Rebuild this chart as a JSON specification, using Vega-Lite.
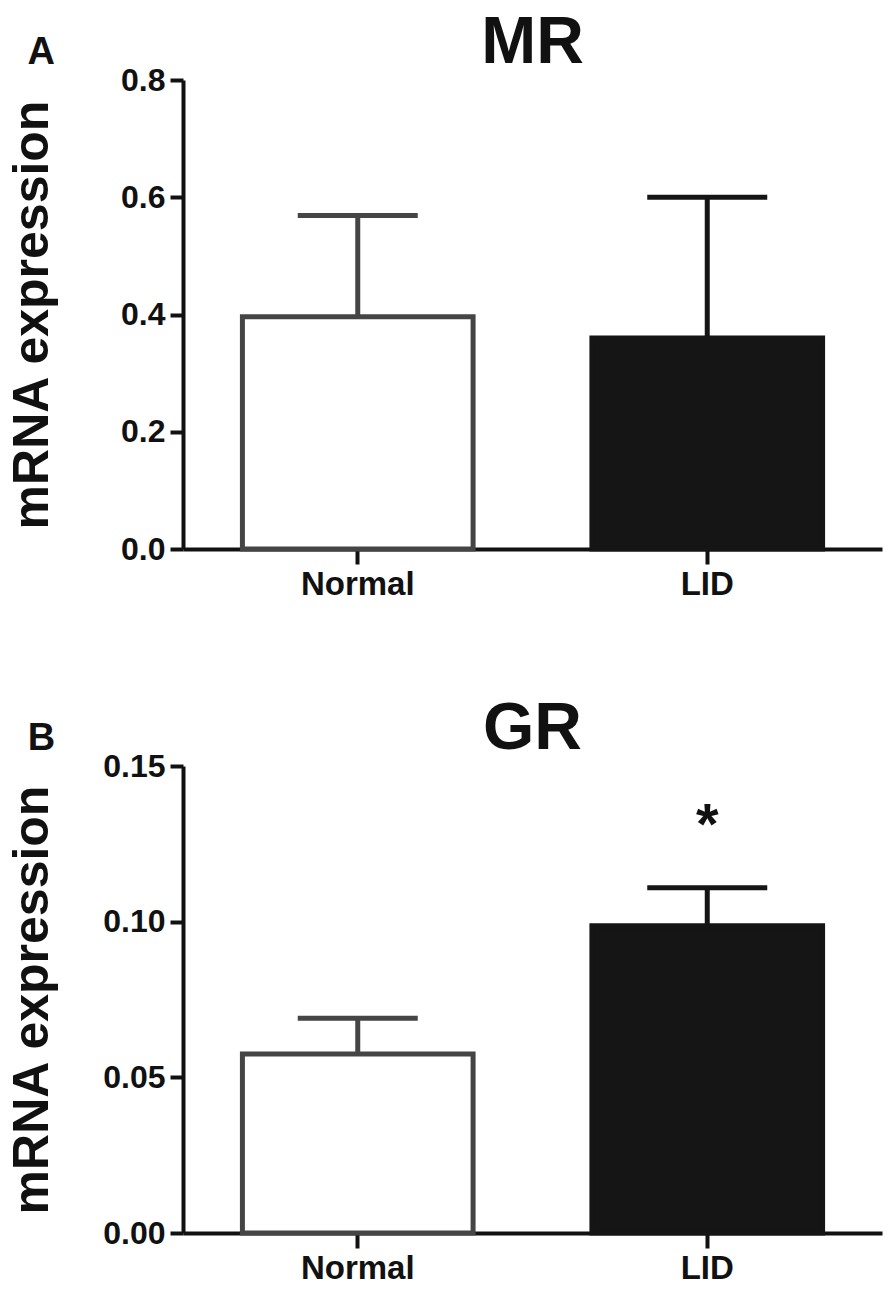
{
  "$schema": "https://vega.github.io/schema/vega-lite/v6.json",
  "background": "white",
  "padding": {"left": 7, "top": 10, "right": 5, "bottom": 5},
  "config": {
    "view": {"stroke": null},
    "font": "Liberation Sans",
    "axis": {
      "grid": false,
      "domainColor": "#111111",
      "domainWidth": 4,
      "tickColor": "#111111",
      "tickWidth": 4,
      "tickSize": 13,
      "labelFont": "Liberation Sans",
      "labelFontWeight": "bold",
      "labelColor": "#111111",
      "titleFont": "Liberation Sans",
      "titleFontWeight": "bold",
      "titleColor": "#111111"
    },
    "title": {"font": "Liberation Sans", "fontWeight": "bold", "color": "#111111"}
  },
  "spacing": 95,
  "vconcat": [
    {
      "title": {"text": "A", "anchor": "start", "frame": "bounds", "fontSize": 38, "dx": 20, "dy": 66},
      "vconcat": [
        {
          "width": 699,
          "height": 469,
          "title": {"text": "MR", "fontSize": 66, "anchor": "middle", "offset": -13},
          "data": {
            "values": [
              {"group": "Normal", "mean": 0.396, "upper": 0.569},
              {"group": "LID", "mean": 0.360, "upper": 0.600}
            ]
          },
          "encoding": {
            "x": {
              "field": "group",
              "type": "nominal",
              "sort": ["Normal", "LID"],
              "scale": {"paddingInner": 0.34, "paddingOuter": 0.17},
              "axis": {"title": null, "labelAngle": 0, "labelFontSize": 33, "tickSize": 15, "labelPadding": 4}
            }
          },
          "layer": [
            {
              "mark": {"type": "rule", "strokeWidth": 5},
              "encoding": {
                "y": {
                  "field": "mean",
                  "type": "quantitative",
                  "scale": {"domain": [0, 0.8], "nice": false},
                  "axis": {
                    "values": [0, 0.2, 0.4, 0.6, 0.8],
                    "format": ".1f",
                    "labelFontSize": 32,
                    "labelPadding": 5,
                    "title": "mRNA expression",
                    "titleFontSize": 50,
                    "titlePadding": 63
                  }
                },
                "y2": {"field": "upper"},
                "stroke": {"field": "group", "type": "nominal", "scale": {"domain": ["Normal", "LID"], "range": ["#454545", "#151515"]}, "legend": null}
              }
            },
            {
              "mark": {"type": "tick", "thickness": 5, "size": 120, "opacity": 1},
              "encoding": {
                "y": {"field": "upper", "type": "quantitative"},
                "color": {"field": "group", "type": "nominal", "scale": {"domain": ["Normal", "LID"], "range": ["#454545", "#151515"]}, "legend": null}
              }
            },
            {
              "mark": {"type": "bar", "strokeWidth": 5},
              "encoding": {
                "y": {"field": "mean", "type": "quantitative"},
                "fill": {"field": "group", "type": "nominal", "scale": {"domain": ["Normal", "LID"], "range": ["#ffffff", "#151515"]}, "legend": null},
                "stroke": {"field": "group", "type": "nominal", "legend": null}
              }
            }
          ]
        }
      ]
    },
    {
      "title": {"text": "B", "anchor": "start", "frame": "bounds", "fontSize": 38, "dx": 20, "dy": 66},
      "vconcat": [
        {
          "width": 699,
          "height": 467,
          "title": {"text": "GR", "fontSize": 66, "anchor": "middle", "offset": -13},
          "data": {
            "values": [
              {"group": "Normal", "mean": 0.0575, "upper": 0.069, "sig": null, "sigpos": null},
              {"group": "LID", "mean": 0.0987, "upper": 0.1109, "sig": "*", "sigpos": 0.1305}
            ]
          },
          "encoding": {
            "x": {
              "field": "group",
              "type": "nominal",
              "sort": ["Normal", "LID"],
              "scale": {"paddingInner": 0.34, "paddingOuter": 0.17},
              "axis": {"title": null, "labelAngle": 0, "labelFontSize": 33, "tickSize": 15, "labelPadding": 4}
            }
          },
          "layer": [
            {
              "mark": {"type": "rule", "strokeWidth": 5},
              "encoding": {
                "y": {
                  "field": "mean",
                  "type": "quantitative",
                  "scale": {"domain": [0, 0.15], "nice": false},
                  "axis": {
                    "values": [0, 0.05, 0.1, 0.15],
                    "format": ".2f",
                    "labelFontSize": 32,
                    "labelPadding": 5,
                    "title": "mRNA expression",
                    "titleFontSize": 50,
                    "titlePadding": 45
                  }
                },
                "y2": {"field": "upper"},
                "stroke": {"field": "group", "type": "nominal", "scale": {"domain": ["Normal", "LID"], "range": ["#454545", "#151515"]}, "legend": null}
              }
            },
            {
              "mark": {"type": "tick", "thickness": 5, "size": 120, "opacity": 1},
              "encoding": {
                "y": {"field": "upper", "type": "quantitative"},
                "color": {"field": "group", "type": "nominal", "scale": {"domain": ["Normal", "LID"], "range": ["#454545", "#151515"]}, "legend": null}
              }
            },
            {
              "mark": {"type": "bar", "strokeWidth": 5},
              "encoding": {
                "y": {"field": "mean", "type": "quantitative"},
                "fill": {"field": "group", "type": "nominal", "scale": {"domain": ["Normal", "LID"], "range": ["#ffffff", "#151515"]}, "legend": null},
                "stroke": {"field": "group", "type": "nominal", "legend": null}
              }
            },
            {
              "transform": [{"filter": "datum.sig != null"}],
              "mark": {"type": "text", "fontSize": 58, "fontWeight": "bold", "baseline": "middle", "color": "#111111"},
              "encoding": {
                "y": {"field": "sigpos", "type": "quantitative"},
                "text": {"field": "sig"}
              }
            }
          ]
        }
      ]
    }
  ]
}
